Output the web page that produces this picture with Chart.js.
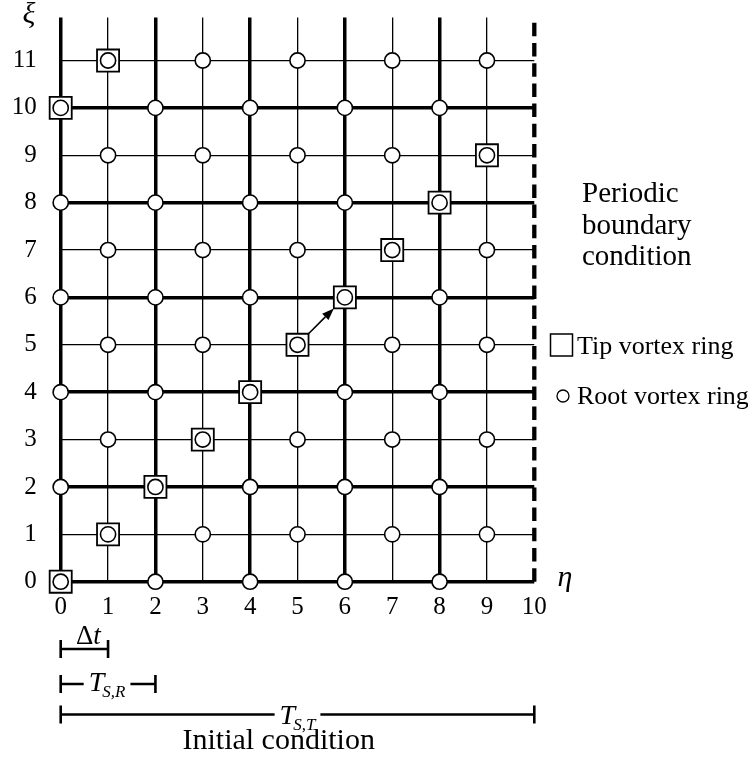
<!DOCTYPE html>
<html><head><meta charset="utf-8">
<script src="https://cdn.jsdelivr.net/npm/chart.js@4"></script>
<style>html,body{margin:0;padding:0;background:#fff}#wrap{width:748px;height:760px;position:relative}</style>
</head><body><div id="wrap"><canvas id="c" width="748" height="760"></canvas></div>
<script>
// ---- data ----
const etaTicks = [0, 1, 2, 3, 4, 5, 6, 7, 8, 9, 10];
const xiTicks = [0, 1, 2, 3, 4, 5, 6, 7, 8, 9, 10, 11];
const rootRing = [
  [0,0],[2,0],[4,0],[6,0],[8,0],
  [1,1],[3,1],[5,1],[7,1],[9,1],
  [0,2],[2,2],[4,2],[6,2],[8,2],
  [1,3],[3,3],[5,3],[7,3],[9,3],
  [0,4],[2,4],[4,4],[6,4],[8,4],
  [1,5],[3,5],[5,5],[7,5],[9,5],
  [0,6],[2,6],[4,6],[6,6],[8,6],
  [1,7],[3,7],[5,7],[7,7],[9,7],
  [0,8],[2,8],[4,8],[6,8],[8,8],
  [1,9],[3,9],[5,9],[7,9],[9,9],
  [0,10],[2,10],[4,10],[6,10],[8,10],
  [1,11],[3,11],[5,11],[7,11],[9,11]
];
const tipRing = [[0,0],[1,1],[2,2],[3,3],[4,4],[5,5],[6,6],[7,7],[8,8],[9,9],[0,10],[1,11]];
const boundaryLine = [[10,0],[10,11.91]];
const arrowFrom = [5,5];
const arrowTo = [6,6];
const bracketNames = ['dt', 'TSR', 'TST'];
const bracketStart = [0, 0, 0];
const bracketEnd = [1, 2, 10];

const serif = '"Liberation Serif", "Times New Roman", serif';
const toPts = arr => arr.map(p => ({x: p[0], y: p[1]}));

const SQ_R = 15.6;

function drawBracket(ctx, x1, x2, y, gapL, gapR) {
  ctx.save();
  ctx.strokeStyle = '#000';
  ctx.lineWidth = 2.6;
  ctx.beginPath();
  ctx.moveTo(x1, y - 9); ctx.lineTo(x1, y + 9);
  ctx.moveTo(x2, y - 9); ctx.lineTo(x2, y + 9);
  if (gapL != null) {
    ctx.moveTo(x1, y); ctx.lineTo(gapL, y);
    ctx.moveTo(gapR, y); ctx.lineTo(x2, y);
  } else {
    ctx.moveTo(x1, y); ctx.lineTo(x2, y);
  }
  ctx.stroke();
  ctx.restore();
}

function drawTSub(ctx, cx, baseline, sub) {
  const fT = 'italic 28px ' + serif, fS = 'italic 17px ' + serif;
  ctx.font = fT; const wT = ctx.measureText('T').width;
  ctx.font = fS; const wS = ctx.measureText(sub).width;
  const total = wT - 2 + wS;
  const x0 = cx - total / 2;
  ctx.textAlign = 'left';
  ctx.textBaseline = 'alphabetic';
  ctx.font = fT; ctx.fillText('T', x0, baseline);
  ctx.font = fS; ctx.fillText(sub, x0 + wT - 2, baseline + 6);
  return [x0 - 5, x0 + total + 5];
}

const overlay = {
  id: 'overlay',
  afterDraw(chart) {
    const ctx = chart.ctx;
    const xs = chart.scales.x, ys = chart.scales.y;
    ctx.save();
    ctx.fillStyle = '#000';
    ctx.strokeStyle = '#000';

    // arrow between the two tip rings
    const half = SQ_R * Math.SQRT1_2;
    const ax1 = xs.getPixelForValue(arrowFrom[0]) + half;
    const ay1 = ys.getPixelForValue(arrowFrom[1]) - half;
    const ax2 = xs.getPixelForValue(arrowTo[0]) - half;
    const ay2 = ys.getPixelForValue(arrowTo[1]) + half;
    const ang = Math.atan2(ay2 - ay1, ax2 - ax1);
    const hl = 12, hw = 4.5;
    ctx.lineWidth = 1.6;
    ctx.beginPath();
    ctx.moveTo(ax1, ay1);
    ctx.lineTo(ax2 - hl * Math.cos(ang), ay2 - hl * Math.sin(ang));
    ctx.stroke();
    ctx.beginPath();
    ctx.moveTo(ax2, ay2);
    ctx.lineTo(ax2 - hl * Math.cos(ang) + hw * Math.sin(ang), ay2 - hl * Math.sin(ang) - hw * Math.cos(ang));
    ctx.lineTo(ax2 - hl * Math.cos(ang) - hw * Math.sin(ang), ay2 - hl * Math.sin(ang) + hw * Math.cos(ang));
    ctx.closePath();
    ctx.fill();

    // axis symbols
    ctx.font = 'italic 30px ' + serif;
    ctx.textAlign = 'center';
    ctx.textBaseline = 'alphabetic';
    ctx.fillText('\u03BE', 29, 23);
    ctx.fillText('\u03B7', 565, 586);

    // right side text
    ctx.textAlign = 'left';
    ctx.font = '29px ' + serif;
    ctx.fillText('Periodic', 582, 202);
    ctx.fillText('boundary', 582, 233.5);
    ctx.fillText('condition', 582, 265);

    // legend
    ctx.lineWidth = 1.5;
    ctx.strokeRect(550.5, 334, 22, 22);
    ctx.font = '26px ' + serif;
    ctx.fillText('Tip vortex ring', 577, 354);
    ctx.beginPath();
    ctx.arc(563, 396, 6, 0, Math.PI * 2);
    ctx.lineWidth = 1.3;
    ctx.stroke();
    ctx.fillText('Root vortex ring', 577, 404);

    // brackets
    const bx = i => [xs.getPixelForValue(bracketStart[i]), xs.getPixelForValue(bracketEnd[i])];
    // dt
    let [x1, x2] = bx(0);
    drawBracket(ctx, x1, x2, 649, null, null);
    ctx.font = '27px ' + serif;
    const wD = ctx.measureText('\u0394').width;
    ctx.font = 'italic 27px ' + serif;
    const wt = ctx.measureText('t').width;
    let dx0 = (x1 + x2) / 2 + 4 - (wD + wt) / 2;
    ctx.font = '27px ' + serif; ctx.fillText('\u0394', dx0, 644);
    ctx.font = 'italic 27px ' + serif; ctx.fillText('t', dx0 + wD, 644);
    // TSR
    [x1, x2] = bx(1);
    let g = drawTSub(ctx, (x1 + x2) / 2 - 1, 691, 'S,R');
    drawBracket(ctx, x1, x2, 684, g[0], g[1]);
    // TST
    [x1, x2] = bx(2);
    g = drawTSub(ctx, (x1 + x2) / 2, 724, 'S,T');
    drawBracket(ctx, x1, x2, 714.5, g[0], g[1]);

    ctx.font = '30px ' + serif;
    ctx.textAlign = 'center';
    ctx.fillText('Initial condition', xs.getPixelForValue(bracketStart[2]) + 218, 749);
    ctx.restore();
  }
};

const gridW = ctx => {
  const v = ctx.tick ? ctx.tick.value : 0;
  if (v === 10 && ctx.scale.axis === 'x') return 0;
  return v % 2 === 0 ? 3.5 : 1.3;
};

new Chart(document.getElementById('c'), {
  type: 'scatter',
  data: {
    datasets: [
      {
        label: 'Root vortex ring',
        data: toPts(rootRing),
        pointStyle: 'circle',
        pointRadius: 7.6,
        pointHoverRadius: 7.6,
        backgroundColor: '#fff',
        borderColor: '#000',
        borderWidth: 1.6,
        order: 0,
        clip: false
      },
      {
        label: 'Tip vortex ring',
        data: toPts(tipRing),
        pointStyle: 'rect',
        pointRadius: SQ_R,
        pointHoverRadius: SQ_R,
        backgroundColor: '#fff',
        borderColor: '#000',
        borderWidth: 1.8,
        order: 1,
        clip: false
      },
      {
        label: 'Periodic boundary',
        data: toPts(boundaryLine),
        showLine: true,
        pointRadius: 0,
        borderColor: '#000',
        borderWidth: 4.3,
        borderDash: [13.5, 6.7],
        borderCapStyle: 'butt',
        order: 2,
        clip: false
      }
    ]
  },
  options: {
    responsive: false,
    animation: false,
    devicePixelRatio: 1,
    layout: { padding: { left: 0, top: 16, right: 213.7, bottom: 0 } },
    plugins: { legend: { display: false }, tooltip: { enabled: false } },
    scales: {
      x: {
        type: 'linear', min: 0, max: 10,
        afterBuildTicks: s => { s.ticks = etaTicks.map(v => ({ value: v })); },
        afterFit: s => { s.height = 178.3; s.paddingLeft = 0; s.paddingRight = 0; },
        grid: { color: '#000', lineWidth: gridW, drawTicks: false },
        border: { display: false },
        ticks: { color: '#000', font: { family: serif, size: 25 }, padding: 11, maxRotation: 0, autoSkip: false }
      },
      y: {
        type: 'linear', min: 0, max: 11.91,
        afterBuildTicks: s => { s.ticks = xiTicks.map(v => ({ value: v })); },
        afterFit: s => { s.width = 60.7; s.paddingTop = 0; s.paddingBottom = 0; },
        grid: { color: '#000', lineWidth: gridW, drawTicks: false },
        border: { display: false },
        ticks: { color: '#000', font: { family: serif, size: 25 }, padding: 24, autoSkip: false }
      }
    }
  },
  plugins: [overlay]
});
</script>
</body></html>
